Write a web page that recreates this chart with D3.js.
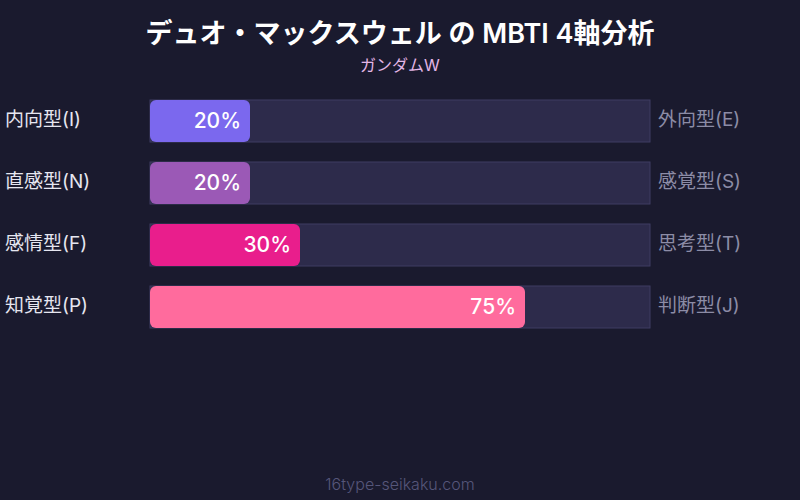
<!DOCTYPE html>
<html>
<head>
<meta charset="utf-8">
<script src="https://cdn.jsdelivr.net/npm/d3@7"></script>
<style>
  body { margin: 0; background: #1a1a2e; }
  svg { display: block; font-family: Inter, 'Noto Sans CJK JP', sans-serif; }
</style>
</head>
<body>
<div id="chart"></div>
<script>
const leftLabels = ['内向型(I)', '直感型(N)', '感情型(F)', '知覚型(P)'];
const rightLabels = ['外向型(E)', '感覚型(S)', '思考型(T)', '判断型(J)'];
const values = [20, 20, 30, 75];
const barColors = ['#7b68ee', '#9b59b6', '#e91e8c', '#ff6b9d'];

const W = 800, H = 500;
const svg = d3.select('#chart').append('svg')
    .attr('width', W)
    .attr('height', H);

svg.append('rect').attr('width', W).attr('height', H).attr('fill', '#1a1a2e');

// Title
svg.append('text')
    .attr('x', W / 2).attr('y', 43)
    .attr('text-anchor', 'middle')
    .attr('fill', '#ffffff')
    .style('font-size', '27px')
    .style('font-weight', '600')
    .text('デュオ・マックスウェル の MBTI 4軸分析');

svg.append('text')
    .attr('x', W / 2).attr('y', 71)
    .attr('text-anchor', 'middle')
    .attr('fill', '#e2b6e6')
    .style('font-size', '16px')
    .text('ガンダムW');

// Scales
const x = d3.scaleLinear().domain([0, 100]).range([150, 650]);
// step 62, bar 42
const y = d3.scaleBand().domain(d3.range(values.length))
    .range([100, 100 + values.length * 62 - 20])
    .paddingInner(20 / 62).paddingOuter(0);

const rows = svg.selectAll('g.row')
    .data(values)
    .enter()
    .append('g')
    .attr('class', 'row');

// Track
rows.append('rect')
    .attr('x', x(0))
    .attr('y', (d, i) => y(i))
    .attr('width', x(100) - x(0))
    .attr('height', y.bandwidth())
    .attr('fill', '#2d2b4b')
    .attr('stroke', '#3f3d62')
    .attr('stroke-width', 1);

// Bars
rows.append('rect')
    .attr('x', x(0))
    .attr('y', (d, i) => y(i))
    .attr('width', d => x(d) - x(0))
    .attr('height', y.bandwidth())
    .attr('rx', 6)
    .attr('fill', (d, i) => barColors[i]);

// Value labels
rows.append('text')
    .attr('x', d => x(d) - 9)
    .attr('y', (d, i) => y(i) + y.bandwidth() / 2)
    .attr('dy', '0.33em')
    .attr('text-anchor', 'end')
    .attr('fill', '#ffffff')
    .style('font-size', '21px')
    .style('font-weight', '500')
    .text(d => d + '%');

// Left labels
rows.append('text')
    .attr('x', 5)
    .attr('y', (d, i) => y(i) + y.bandwidth() / 2)
    .attr('dy', '0.28em')
    .attr('fill', '#e6e6f0')
    .style('font-size', '19px')
    .text((d, i) => leftLabels[i]);

// Right labels
rows.append('text')
    .attr('x', 658)
    .attr('y', (d, i) => y(i) + y.bandwidth() / 2)
    .attr('dy', '0.28em')
    .attr('fill', '#8c8ca6')
    .style('font-size', '19px')
    .text((d, i) => rightLabels[i]);

// Footer
svg.append('text')
    .attr('x', W / 2).attr('y', 490)
    .attr('text-anchor', 'middle')
    .attr('fill', '#56567a')
    .style('font-size', '16px')
    .style('font-weight', '300')
    .text('16type-seikaku.com');
</script>
</body>
</html>
